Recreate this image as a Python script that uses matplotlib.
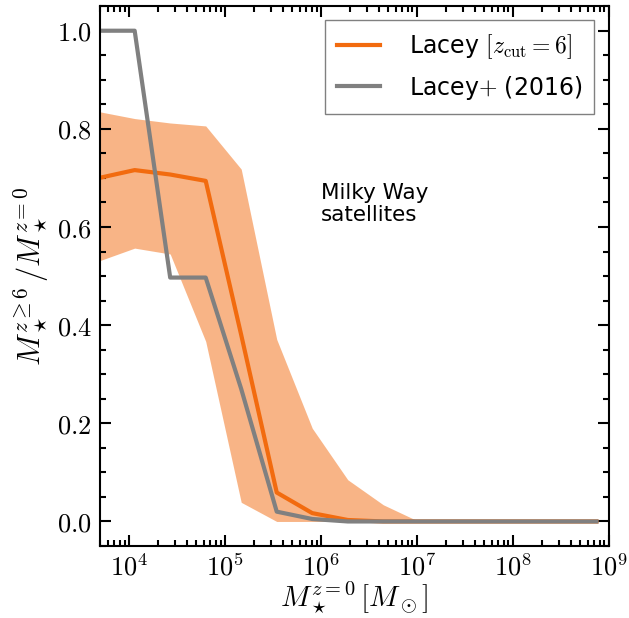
import numpy as np
import matplotlib
matplotlib.use('Agg')
import matplotlib.pyplot as plt
from matplotlib.ticker import MultipleLocator, FuncFormatter, LogLocator

# ------------------------------------ data ------------------------------------
# log10 bin centres of M_star(z=0)
log_mstar = [3.69, 4.06, 4.43, 4.80, 5.17, 5.54, 5.91, 6.28, 6.65, 7.02,
             7.39, 7.76, 8.13, 8.50, 8.87]
# Lacey [z_cut = 6] median and spread
lacey_med = [0.700, 0.716, 0.707, 0.694, 0.380, 0.059, 0.017, 0.003, 0.0, 0.0,
             0.0, 0.0, 0.0, 0.0, 0.0]
lacey_hi = [0.835, 0.821, 0.812, 0.806, 0.718, 0.371, 0.190, 0.085, 0.034, 0.0,
            0.0, 0.0, 0.0, 0.0, 0.0]
lacey_lo = [0.531, 0.557, 0.545, 0.367, 0.039, 0.0, 0.0, 0.0, 0.0, 0.0,
            0.0, 0.0, 0.0, 0.0, 0.0]
# Lacey+ (2016)
lacey16 = [1.0, 1.0, 0.497, 0.497, 0.270, 0.020, 0.005, 0.0, 0.0, 0.0,
           0.0, 0.0, 0.0, 0.0, 0.0]

ORANGE = '#F26B0F'
GRAY = '#808080'

plt.rcParams['mathtext.fontset'] = 'cm'
plt.rcParams['font.family'] = ['DejaVu Sans']

x = 10 ** np.array(log_mstar)

fig = plt.figure(figsize=(6.29, 6.18), dpi=100)
ax = fig.add_axes([0.159, 0.1165, 0.809, 0.8735])

ax.fill_between(x, lacey_lo, lacey_hi, color=ORANGE, alpha=0.5, lw=0)
ax.plot(x, lacey_med, color=ORANGE, lw=3, label=r'Lacey $[z_{\rm cut}=6]$')
ax.plot(x, lacey16, color=GRAY, lw=3, label=r'Lacey$+$ (2016)')

ax.set_xscale('log')
ax.set_xlim(5e3, 1e9)
ax.set_ylim(-0.05, 1.05)

ax.yaxis.set_major_locator(MultipleLocator(0.2))
ax.yaxis.set_minor_locator(MultipleLocator(0.05))
ax.yaxis.set_major_formatter(FuncFormatter(lambda v, p: r'$%.1f$' % v))
ax.xaxis.set_major_locator(LogLocator(base=10, numticks=12))
ax.xaxis.set_minor_locator(LogLocator(base=10, subs=np.arange(2, 10), numticks=12))
ax.xaxis.set_major_formatter(FuncFormatter(lambda v, p: r'$10^{%d}$' % round(np.log10(v))))

ax.tick_params(which='both', direction='in', top=True, right=True, width=1.5)
ax.tick_params(which='major', length=8, labelsize=19, pad=6)
ax.tick_params(which='minor', length=4)
for s in ax.spines.values():
    s.set_linewidth(1.5)

ax.set_xlabel(r'$M_\star^{z=0}\,[M_\odot]$', fontsize=21, labelpad=-1)
ax.set_ylabel(r'$M_\star^{z\geq6}\,/M_\star^{z=0}$', fontsize=22, labelpad=4)

ax.text(0.434, 0.633, 'Milky Way\nsatellites', transform=ax.transAxes,
        fontsize=15.5, ha='left', va='center', linespacing=1.1)

leg = ax.legend(loc='upper right', fontsize=17, fancybox=False,
                edgecolor=GRAY, framealpha=1, handlelength=1.85,
                borderpad=0.5, handletextpad=1.2, borderaxespad=0,
                labelspacing=0.55, bbox_to_anchor=(0.9705, 0.974))
leg.get_frame().set_linewidth(1.0)

fig.savefig('out.png', dpi=100)
